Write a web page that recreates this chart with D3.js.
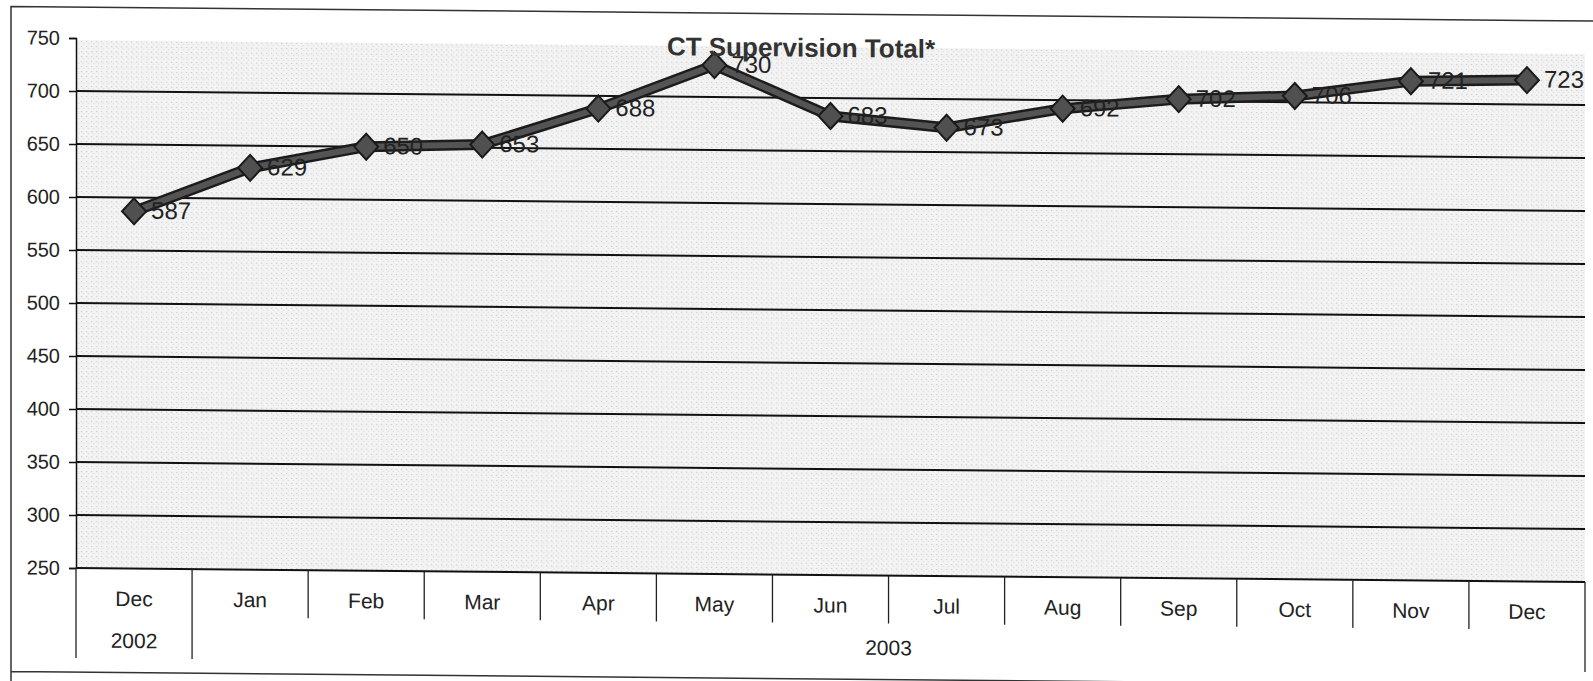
<!DOCTYPE html>
<meta charset="utf-8">
<style>
  body { margin: 0; background: #fff; }
  svg { font-family: "Liberation Sans", Arial, sans-serif; }
  .grid line { stroke: #111; stroke-width: 2px; }
  .tick-lbl { font-size: 20px; fill: #222; }
  .cat-lbl { font-size: 21px; fill: #222; }
  .val-lbl { font-size: 24px; fill: #222; }
</style>
<body>
<svg id="chart" width="1593" height="681"></svg>
<script src="https://d3js.org/d3.v7.min.js"></script>
<script>

// values
const months = ["Dec", "Jan", "Feb", "Mar", "Apr", "May", "Jun", "Jul", "Aug", "Sep", "Oct", "Nov", "Dec"];
const monthKeys = months.map((m, i) => m + "-" + i);
const totals = [587, 629, 650, 653, 688, 730, 683, 673, 692, 702, 706, 721, 723];
const yTicks = [250, 300, 350, 400, 450, 500, 550, 600, 650, 700, 750];
const years = [{ label: "2002", from: 0, to: 0 }, { label: "2003", from: 1, to: 12 }];
const title = "CT Supervision Total*";

const plotL = 76, plotR = 1585, plotT = 38, plotB = 568;

// the scanned page runs slightly downhill to the right
const slope = 0.0093;
const skewDeg = Math.atan(slope) * 180 / Math.PI;

const svg = d3.select("#chart")
  .append("g")
  .attr("transform", `translate(0,${-plotL * slope}) skewY(${skewDeg})`);

const x = d3.scaleBand().domain(monthKeys).range([plotL, plotR]).padding(0);
const y = d3.scaleLinear().domain([250, 750]).range([plotB, plotT]);

// speckled grey fill like the photocopy
const defs = d3.select("#chart").append("defs");
const pat = defs.append("pattern")
  .attr("id", "speck")
  .attr("width", 5).attr("height", 5)
  .attr("patternUnits", "userSpaceOnUse");
pat.append("rect").attr("width", 5).attr("height", 5).attr("fill", "#f3f3f3");
pat.append("rect").attr("x", 1).attr("y", 1).attr("width", 1).attr("height", 1).attr("fill", "#bdbdbd");
pat.append("rect").attr("x", 3).attr("y", 3).attr("width", 1).attr("height", 1).attr("fill", "#d4d4d4");

// outer frame
svg.append("path")
  .attr("d", `M11,${690} L11,7 L1600,7 M11,672 L1600,672`)
  .attr("fill", "none").attr("stroke", "#333").attr("stroke-width", 1.5);

svg.append("rect")
  .attr("x", plotL).attr("y", plotT + 2)
  .attr("width", plotR - plotL).attr("height", plotB - plotT - 2)
  .attr("fill", "url(#speck)");

// gridlines
svg.append("g").attr("class", "grid")
  .selectAll("line")
  .data(yTicks.filter(d => d > 250 && d < 750))
  .join("line")
  .attr("x1", plotL).attr("x2", plotR)
  .attr("y1", d => y(d)).attr("y2", d => y(d));

// y axis
const yAxis = svg.append("g")
  .attr("transform", `translate(${plotL},0)`)
  .call(d3.axisLeft(y).tickValues(yTicks).tickSize(7).tickPadding(9));
yAxis.select(".domain").attr("stroke", "#111").attr("stroke-width", 1.5);
yAxis.selectAll(".tick line").attr("stroke", "#111").attr("stroke-width", 1.5);
yAxis.selectAll(".tick text").attr("class", "tick-lbl");
yAxis.attr("font-size", null).attr("font-family", null);

// category axis with bracket dividers
svg.append("line")
  .attr("x1", plotL).attr("x2", plotR)
  .attr("y1", plotB).attr("y2", plotB)
  .attr("stroke", "#111").attr("stroke-width", 2);

const edges = monthKeys.map(k => x(k)).concat([plotR]);
svg.append("g").selectAll("line")
  .data(edges)
  .join("line")
  .attr("x1", d => d).attr("x2", d => d)
  .attr("y1", plotB)
  .attr("y2", (d, i) => (i === 0 || i === 1 || i === edges.length - 1) ? 658 : 616)
  .attr("stroke", "#222").attr("stroke-width", 1.3);

svg.append("g").selectAll("text")
  .data(months)
  .join("text")
  .attr("class", "cat-lbl")
  .attr("x", (d, i) => x(monthKeys[i]) + x.bandwidth() / 2)
  .attr("y", 600)
  .attr("text-anchor", "middle")
  .attr("dominant-baseline", "middle")
  .text(d => d);

svg.append("g").selectAll("text")
  .data(years)
  .join("text")
  .attr("class", "cat-lbl")
  .attr("x", d => (x(monthKeys[d.from]) + x(monthKeys[d.to]) + x.bandwidth()) / 2)
  .attr("y", 642)
  .attr("text-anchor", "middle")
  .attr("dominant-baseline", "middle")
  .text(d => d.label);

// series line
const line = d3.line()
  .x((d, i) => x(monthKeys[i]) + x.bandwidth() / 2)
  .y(d => y(d));

svg.append("path")
  .datum(totals)
  .attr("d", line)
  .attr("fill", "none")
  .attr("stroke", "#1c1c1c")
  .attr("stroke-width", 11)
  .attr("stroke-linejoin", "round");
svg.append("path")
  .datum(totals)
  .attr("d", line)
  .attr("fill", "none")
  .attr("stroke", "#545454")
  .attr("stroke-width", 6)
  .attr("stroke-linejoin", "round");

// diamond markers
const dw = 12, dh = 13;
svg.append("g").selectAll("path")
  .data(totals)
  .join("path")
  .attr("d", `M0,${-dh} L${dw},0 L0,${dh} L${-dw},0 Z`)
  .attr("transform", (d, i) => `translate(${x(monthKeys[i]) + x.bandwidth() / 2},${y(d)})`)
  .attr("fill", "#505050")
  .attr("stroke", "#1a1a1a")
  .attr("stroke-width", 2);

// value labels
svg.append("g").selectAll("text")
  .data(totals)
  .join("text")
  .attr("class", "val-lbl")
  .attr("x", (d, i) => x(monthKeys[i]) + x.bandwidth() / 2 + 17)
  .attr("y", d => y(d) + 1)
  .attr("dominant-baseline", "middle")
  .text(d => d);

// title
svg.append("text")
  .attr("x", 801)
  .attr("y", 43)
  .attr("text-anchor", "middle")
  .attr("dominant-baseline", "middle")
  .attr("font-size", 26)
  .attr("font-weight", "bold")
  .attr("fill", "#333")
  .text(title);

</script>
</body>
